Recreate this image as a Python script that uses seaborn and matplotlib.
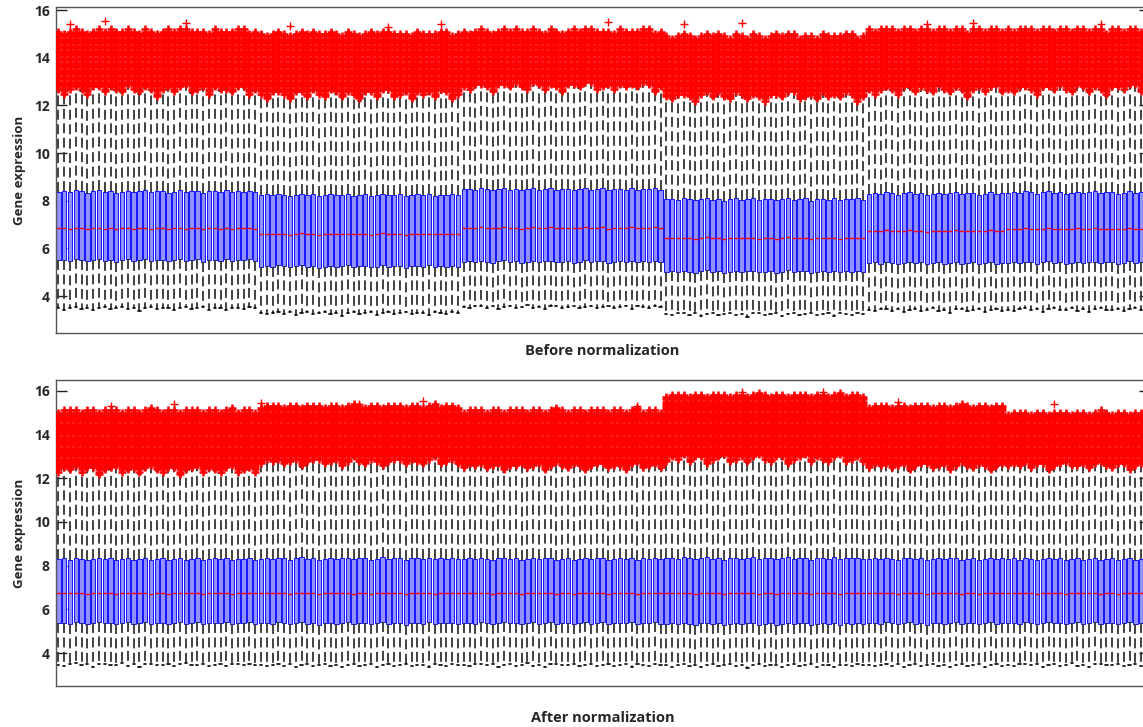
import matplotlib
matplotlib.use("Agg")
import pandas as pd
import matplotlib.pyplot as plt
import seaborn as sns

# samples per batch (the last batch runs past the right edge)
batch_sizes = [35, 35, 35, 35, 24, 24]

# Before normalization, one value per batch
before_lo = [3.48, 3.28, 3.54, 3.24, 3.41, 3.43]
before_q1 = [5.50, 5.24, 5.44, 5.02, 5.38, 5.40]
before_med = [6.84, 6.60, 6.86, 6.43, 6.73, 6.82]
before_q3 = [8.38, 8.24, 8.48, 8.06, 8.30, 8.34]
before_hi = [12.62, 12.45, 12.78, 12.38, 12.62, 12.66]
before_top = [15.15, 15.05, 15.15, 14.95, 15.20, 15.20]

# After normalization, one value per batch
after_lo = [3.47, 3.45, 3.46, 3.44, 3.45, 3.46]
after_q1 = [5.37, 5.36, 5.37, 5.34, 5.36, 5.37]
after_med = [6.74, 6.74, 6.74, 6.74, 6.74, 6.74]
after_q3 = [8.30, 8.32, 8.31, 8.33, 8.31, 8.30]
after_hi = [12.35, 12.72, 12.50, 12.85, 12.52, 12.55]
after_top = [15.10, 15.30, 15.10, 15.80, 15.30, 15.00]

# per-sample wobble inside a batch
hi_wobble_before = [0.0, -0.15, 0.05, 0.1, 0.0, -0.2, 0.08, 0.12, -0.05, 0.15,
                    0.0, -0.1, 0.2, 0.05, -0.12, 0.1, 0.0, -0.25, 0.05, 0.1,
                    -0.05, 0.15, 0.2, -0.1, 0.0, 0.08, -0.15, 0.12, 0.0, 0.05,
                    -0.08, 0.18, 0.1, -0.2, 0.0]
hi_wobble_after = [-0.05, 0.1, 0.0, 0.15, -0.1, 0.05, 0.12, -0.2, 0.0, 0.08,
                   0.15, -0.05, 0.0, 0.1, -0.15, 0.05, 0.2, 0.0, -0.1, 0.12,
                   0.05, -0.18, 0.0, 0.1, 0.15, -0.05, 0.08, 0.0, -0.12, 0.1,
                   0.2, -0.05, 0.0, 0.12, -0.1]
box_wobble = [0.0, 0.03, -0.02, 0.05, 0.01, -0.04, 0.02, 0.06, -0.01, 0.03,
              -0.05, 0.0, 0.04, -0.02, 0.02, 0.05, -0.03, 0.01, 0.03, -0.04,
              0.0, 0.06, -0.02, 0.02, 0.04, -0.05, 0.01, 0.03, -0.01, 0.05,
              -0.03, 0.02, 0.0, 0.04, -0.02]
lo_wobble = [0.0, -0.05, 0.03, 0.06, -0.02, 0.04, -0.08, 0.02, 0.05, -0.03,
             0.0, 0.07, -0.04, 0.02, -0.1, 0.03, 0.05, -0.02, 0.0, 0.04,
             -0.06, 0.02, 0.06, -0.03, 0.01, 0.05, -0.05, 0.0, 0.03, -0.07,
             0.04, 0.02, -0.03, 0.05, 0.0]

# outlier rows stacked above the upper whisker
flier_levels = [12.0, 12.1, 12.2, 12.3, 12.4, 12.5, 12.6, 12.7, 12.8, 12.9,
                13.0, 13.1, 13.2, 13.3, 13.4, 13.5, 13.6, 13.7, 13.8, 13.9,
                14.0, 14.1, 14.2, 14.3, 14.4, 14.5, 14.6, 14.7, 14.8, 14.9,
                15.0, 15.1, 15.2, 15.3, 15.4, 15.5, 15.6, 15.7, 15.8, 15.9]

# a few isolated high outliers (sample index, value)
stray_before = [(2, 15.4), (8, 15.55), (22, 15.45), (40, 15.35), (57, 15.3),
                (66, 15.4), (95, 15.5), (108, 15.4), (118, 15.45),
                (150, 15.4), (158, 15.45), (180, 15.4)]
stray_after = [(9, 15.3), (20, 15.4), (35, 15.45), (52, 15.4), (63, 15.55),
               (100, 15.3), (118, 15.95), (132, 15.95), (145, 15.5), (172, 15.4)]

panels = [
    ("Before normalization", before_lo, before_q1, before_med, before_q3,
     before_hi, before_top, hi_wobble_before, stray_before, (2.45, 16.13), 8),
    ("After normalization", after_lo, after_q1, after_med, after_q3,
     after_hi, after_top, hi_wobble_after, stray_after, (2.5, 16.49), 18),
]


def build_frames(lo, q1, med, q3, hi, top, hi_wob):
    box_rows = []
    flier_rows = []
    pos = 0
    for b, n in enumerate(batch_sizes):
        for k in range(n):
            dv = box_wobble[k]
            h = hi[b] + hi_wob[k]
            # five points -> percentiles 0/25/50/75/100 land exactly on them
            for v in [lo[b] + lo_wobble[k], q1[b] + dv, med[b] + dv / 2,
                      q3[b] + dv, h]:
                box_rows.append({"sample": pos, "value": v})
            for f in flier_levels:
                if h < f <= top[b] + hi_wob[k] / 2:
                    flier_rows.append({"sample": pos, "value": f})
            pos += 1
    return pd.DataFrame(box_rows), pd.DataFrame(flier_rows), pos


sns.set_style("white")
plt.rcParams["font.family"] = ["Open Sans", "DejaVu Sans"]

fig = plt.figure(figsize=(11.43, 7.27), dpi=100)
W, H = 1143, 727
axes_px = [(7, 333), (380, 686)]

for (label, lo, q1, med, q3, hi, top, hi_wob, stray, ylim, lpad), (ytop, ybot) in zip(panels, axes_px):
    ax = fig.add_axes([55.5 / W, 1 - ybot / H, 1 - 55.5 / W + 0.006, (ybot - ytop) / H])
    df_box, df_fl, n_total = build_frames(lo, q1, med, q3, hi, top, hi_wob)
    df_stray = pd.DataFrame(stray, columns=["sample", "value"])

    sns.boxplot(data=df_box, x="sample", y="value", ax=ax, whis=(0, 100),
                showfliers=False, width=0.76, linewidth=0.7,
                boxprops=dict(facecolor="#9090ff", edgecolor="#1414ff", linewidth=0.7),
                medianprops=dict(color="red", linewidth=1.0),
                whiskerprops=dict(color="#333333", linewidth=1.3,
                                  linestyle=(0, (5.5, 2.5))),
                capprops=dict(color="black", linewidth=1.2))
    sns.scatterplot(data=df_fl, x="sample", y="value", ax=ax, marker="+",
                    color="red", s=40, linewidth=1.8, legend=False, zorder=5)
    sns.scatterplot(data=df_stray, x="sample", y="value", ax=ax, marker="+",
                    color="red", s=40, linewidth=1.0, legend=False, zorder=5)

    ax.set_xlim(-0.5, n_total + 0.5)
    ax.set_ylim(*ylim)
    ax.set_yticks([4, 6, 8, 10, 12, 14, 16])
    ax.set_xticks([])
    ax.tick_params(axis="y", direction="in", length=8, width=1, right=True,
                   left=True, labelsize=10, pad=4, color="#222222")
    for t in ax.get_yticklabels():
        t.set_fontweight("bold")
    for s in ax.spines.values():
        s.set_visible(True)
        s.set_color("#555555")
        s.set_linewidth(1)
    ax.set_ylabel("Gene expression", fontsize=9.5, fontweight="bold", labelpad=6)
    ax.set_xlabel(label, fontsize=10.5, fontweight="bold", labelpad=lpad)

fig.savefig("out.png", dpi=100)
